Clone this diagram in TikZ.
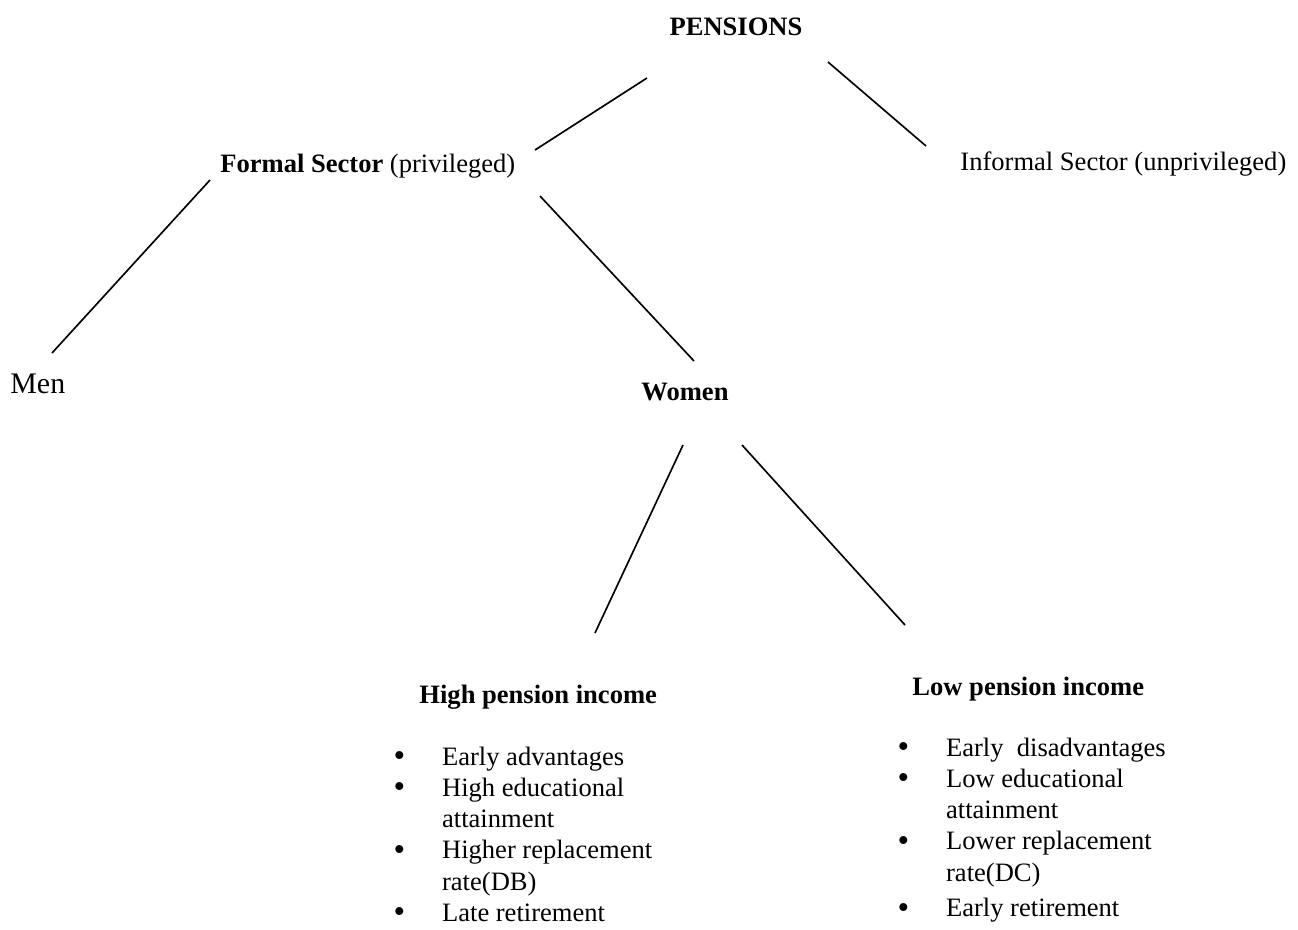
\documentclass[tikz,border=0pt]{standalone}
\usepackage{fontspec}
\setmainfont{Liberation Serif}
\usepackage{tikz}
\usetikzlibrary{positioning}
\newcommand{\pbul}{\makebox[22pt][l]{\makebox[5.4pt][c]{\fontsize{15}{15}\selectfont\raisebox{-0.6pt}{•}}}}

\begin{document}
\begin{tikzpicture}[
    x=0.452pt, y=-0.452pt,
    lbl/.style={inner sep=0pt, font=\fontsize{12}{14.15}\selectfont},
    head/.style={lbl, font=\fontsize{12}{14.15}\selectfont\bfseries},
    branch/.style={line width=0.75pt, black}
]
    \useasboundingbox (0,0) rectangle (1298,929);

    % labels
    \node[head, anchor=base] (pens) at (736,35) {PENSIONS};
    \node[lbl, anchor=base west] (formal) at (220,172) {\textbf{Formal Sector} (privileged)};
    \node[lbl, anchor=base west] (informal) at (960,170) {Informal Sector (unprivileged)};
    \node[lbl, anchor=base west, font=\fontsize{13.5}{15}\selectfont] (men) at (10,393) {Men};
    \node[head, anchor=base] (women) at (685,400) {Women};
    \node[head, anchor=base west] (high) at (419,703) {High pension income};
    \node[head, anchor=base west] (low) at (912,695) {Low pension income};

    \node[lbl, anchor=base west] (highlist) at (393,765) {%
        \begin{tabular}[t]{@{}l@{}l@{}}
            \pbul & Early advantages\\
            \pbul & High educational\\
                  & attainment\\
            \pbul & Higher replacement\\
                  & rate(DB)\\
            \pbul & Late retirement
        \end{tabular}};
    \node[lbl, anchor=base west] (lowlist) at (897,756) {%
        \begin{tabular}[t]{@{}l@{}l@{}}
            \pbul & Early\ \ disadvantages\\
            \pbul & Low educational\\
                  & attainment\\
            \pbul & Lower replacement\\
                  & rate(DC)\\[2pt]
            \pbul & Early retirement
        \end{tabular}};

    % line ends
    \coordinate (pens-l) at (647,78);
    \coordinate (pens-r) at (828,62);
    \coordinate (formal-t) at (535,150);
    \coordinate (informal-t) at (926,146);
    \coordinate (formal-l) at (210,180);
    \coordinate (formal-r) at (540,196);
    \coordinate (men-t) at (52,353);
    \coordinate (women-t) at (694,361);
    \coordinate (women-l) at (683,445);
    \coordinate (women-r) at (742,445);
    \coordinate (high-t) at (595,633);
    \coordinate (low-t) at (905,625);

    \draw[branch] (pens-l) -- (formal-t);
    \draw[branch] (pens-r) -- (informal-t);
    \draw[branch] (formal-l) -- (men-t);
    \draw[branch] (formal-r) -- (women-t);
    \draw[branch] (women-l) -- (high-t);
    \draw[branch] (women-r) -- (low-t);
\end{tikzpicture}
\end{document}
